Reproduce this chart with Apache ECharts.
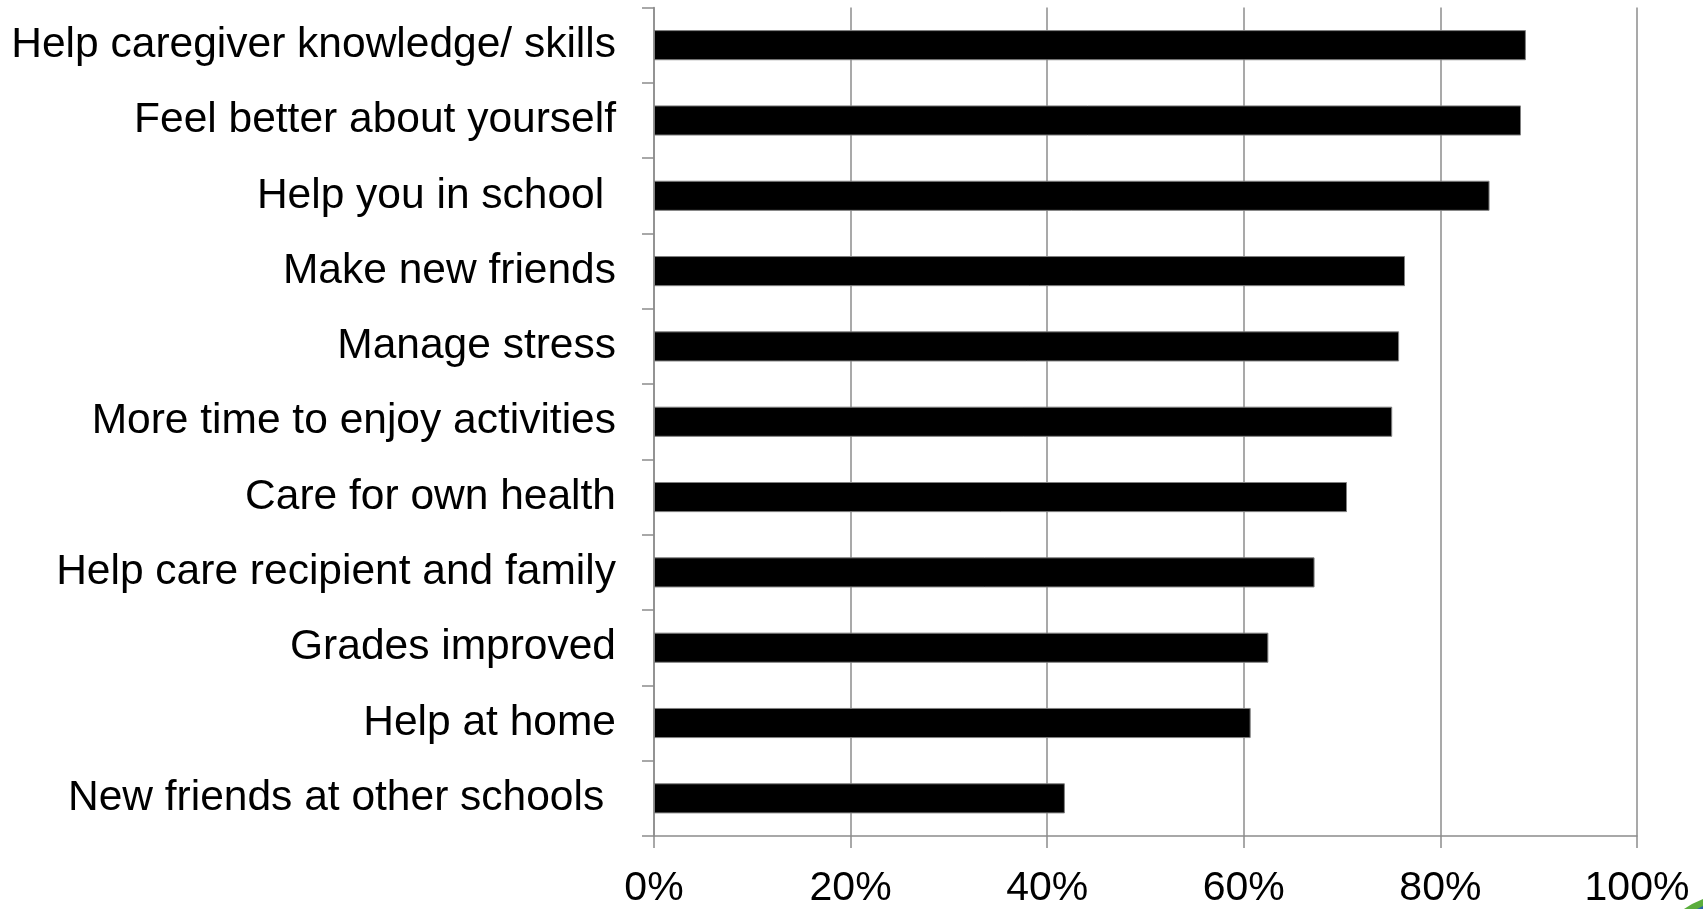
<!DOCTYPE html>
<html>
<head>
<meta charset="utf-8">
<script src="https://cdn.jsdelivr.net/npm/echarts@6/dist/echarts.min.js"></script>
<style>
html,body{margin:0;padding:0;background:#fff;}
#chart{width:1703px;height:909px;}
</style>
</head>
<body>
<div id="chart"></div>
<script>
const categories = [
  "Help caregiver knowledge/ skills",
  "Feel better about yourself",
  "Help you in school ",
  "Make new friends",
  "Manage stress",
  "More time to enjoy activities",
  "Care for own health",
  "Help care recipient and family",
  "Grades improved",
  "Help at home",
  "New friends at other schools "
];
const values = [88.7, 88.2, 85.0, 76.4, 75.8, 75.1, 70.5, 67.2, 62.5, 60.7, 41.8];
const xTicks = [0, 20, 40, 60, 80, 100];

const chart = echarts.init(document.getElementById('chart'));
const font = 'Arial, "Liberation Sans", sans-serif';
chart.setOption({
  animation: false,
  grid: { left: 654, right: 66, top: 7.5, bottom: 72, containLabel: false },
  graphic: [
    { type: 'polygon', silent: true, z: 100,
      shape: { points: [[1684, 909], [1692, 904], [1703, 899], [1703, 909]] },
      style: { fill: '#5aad3c' } },
    { type: 'polygon', silent: true, z: 101,
      shape: { points: [[1697, 909], [1703, 906], [1703, 909]] },
      style: { fill: '#2a62a8' } }
  ],
  xAxis: {
    type: 'value',
    min: xTicks[0],
    max: xTicks[xTicks.length - 1],
    interval: 20,
    axisLine: { show: true, lineStyle: { color: '#8c8c8c', width: 1.5 } },
    axisTick: { show: true, length: 12, lineStyle: { color: '#8c8c8c', width: 1.5 } },
    splitLine: { show: true, lineStyle: { color: '#8c8c8c', width: 1.5 } },
    axisLabel: { formatter: v => v + '%', color: '#000', fontSize: 41, fontFamily: font, margin: 32 }
  },
  yAxis: {
    type: 'category',
    data: categories,
    inverse: true,
    axisLine: { show: true, lineStyle: { color: '#8c8c8c', width: 1.5 } },
    axisTick: { show: true, length: 12, lineStyle: { color: '#8c8c8c', width: 1.5 } },
    splitLine: { show: false },
    axisLabel: { color: '#000', fontSize: 42.5, fontFamily: font, margin: 38, padding: [7, 0, 0, 0] }
  },
  series: [{
    type: 'bar',
    data: values,
    barWidth: '40%',
    itemStyle: { color: '#000', borderColor: '#808080', borderWidth: 1 }
  }]
});
</script>
</body>
</html>
